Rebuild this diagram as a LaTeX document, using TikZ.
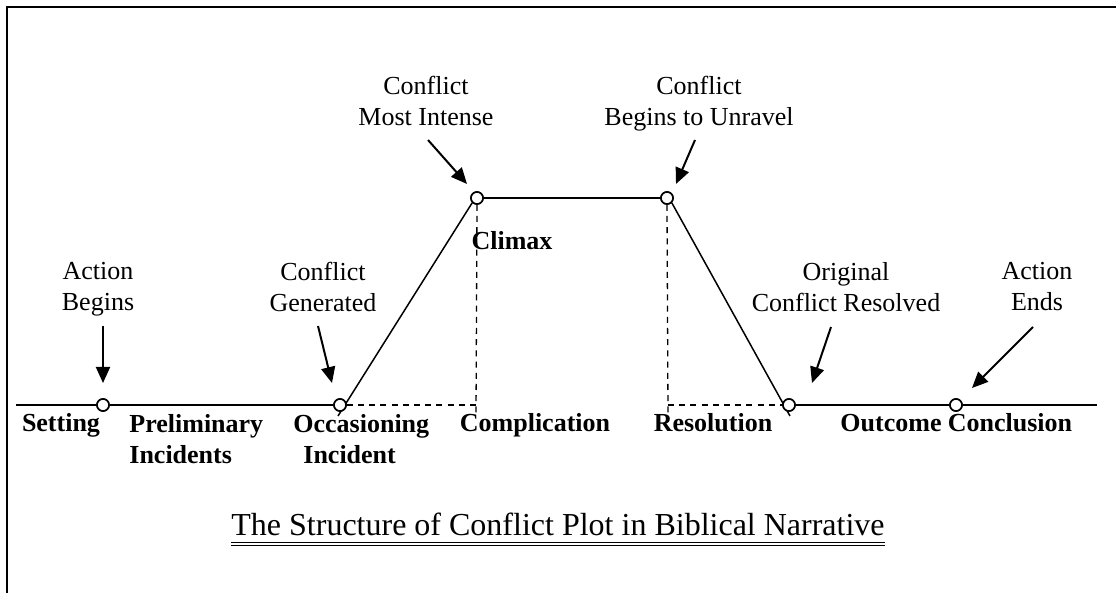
\documentclass[tikz,border=0pt]{standalone}
\usepackage{fontspec}
\setmainfont{Liberation Serif}
\usetikzlibrary{arrows.meta}
\begin{document}
\begin{tikzpicture}[x=0.5pt,y=-0.5pt,
  lbl/.style={font=\fontsize{13}{15.5}\selectfont, align=center, inner sep=0pt},
  blbl/.style={font=\fontsize{13}{15.5}\selectfont\bfseries, align=center, inner sep=0pt},
  bleft/.style={font=\fontsize{13}{15.5}\selectfont\bfseries, align=left, inner sep=0pt},
  dot/.style={circle, draw, fill=white, minimum size=6pt, inner sep=0pt, line width=0.8pt},
  arr/.style={line width=1pt, -{Triangle[length=8pt,width=7pt]}},
  plotline/.style={line width=0.75pt},
  dsh/.style={line width=0.65pt, dash pattern=on 3pt off 2.6pt},
  frame/.style={line width=1pt}]
\useasboundingbox (0,0) rectangle (1116,593);
% frame
\draw[frame] (6.7,593) -- (6.7,7.5) -- (1116,7.5);
% key points
\coordinate (b0) at (16,405);
\coordinate (b1) at (1097,405);
\coordinate (riseLow) at (338,416);
\coordinate (fallLow) at (790,416);
\coordinate (cxL) at (476,405);
\coordinate (cxR) at (668,405);
\coordinate (cxLlow) at (476,417);
\coordinate (cxRlow) at (668,413);
% circles (nodes)
\node[dot] (p1) at (103,405) {};
\node[dot] (p2) at (340,405) {};
\node[dot] (p3) at (477,198) {};
\node[dot] (p4) at (667,198) {};
\node[dot] (p5) at (789,405) {};
\node[dot] (p6) at (956,405) {};
% dashed guides
\draw[dsh] (p2.east) -- (cxL);
\draw[dsh] (p3.south) -- (cxLlow);
\draw[dsh] (p4.south) -- (cxRlow);
\draw[dsh] (cxR) -- (p5.west);
% plot lines
\draw[plotline] (b0) -- (p1.west);
\draw[plotline] (p1.east) -- (p2.west);
\draw[plotline] (riseLow) -- (p3.south west);
\draw[plotline] (p3.east) -- (p4.west);
\draw[plotline] (p4.south east) -- (fallLow);
\draw[plotline] (p5.east) -- (p6.west);
\draw[plotline] (p6.east) -- (b1);
% redraw circles on top
\foreach \n in {p1,p2,p3,p4,p5,p6}{\node[dot] at (\n) {};}
% top labels
\node[lbl, anchor=north] (abeg) at (98,262) {Action\\Begins};
\node[lbl, anchor=north] (cgen) at (323,262) {Conflict\\Generated};
\node[lbl, anchor=north] (cmost) at (426,76) {Conflict\\Most Intense};
\node[lbl, anchor=north] (cunr) at (699,76) {Conflict\\Begins to Unravel};
\node[lbl, anchor=north] (ores) at (846,262) {Original\\Conflict Resolved};
\node[lbl, anchor=north] (aend) at (1037,262) {Action\\Ends};
\node[blbl, anchor=base] (climax) at (512,249.6) {Climax};
% arrow coordinates
\coordinate (a1s) at (103,326); \coordinate (a1e) at (103,383);
\coordinate (a2s) at (318,326); \coordinate (a2e) at (332,383);
\coordinate (a3s) at (428,140); \coordinate (a3e) at (467,184);
\coordinate (a4s) at (695,140); \coordinate (a4e) at (676,184);
\coordinate (a5s) at (831,327); \coordinate (a5e) at (812,383);
\coordinate (a6s) at (1033,327); \coordinate (a6e) at (972,388);
\draw[arr] (a1s) -- (a1e);
\draw[arr] (a2s) -- (a2e);
\draw[arr] (a3s) -- (a3e);
\draw[arr] (a4s) -- (a4e);
\draw[arr] (a5s) -- (a5e);
\draw[arr] (a6s) -- (a6e);
% bottom labels
\node[blbl, anchor=base] (setting) at (61,431.6) {Setting};
\node[bleft, anchor=north west] (prelim) at (129,414) {Preliminary\\Incidents};
\node[bleft, anchor=north west] (occ) at (293,414) {Occasioning\\\hspace*{5pt}Incident};
\node[blbl, anchor=base] (compl) at (535,431.6) {Complication};
\node[blbl, anchor=base] (resol) at (713,431.6) {Resolution};
\node[blbl, anchor=base] (outc) at (891,431.6) {Outcome};
\node[blbl, anchor=base] (concl) at (1010,431.6) {Conclusion};
% title
\node[inner sep=0pt, font=\fontsize{16}{19}\selectfont, anchor=base] (title) at (558,535.5) {The Structure of Conflict Plot in Biblical Narrative};
\draw[line width=0.7pt] ([yshift=-3.4pt]title.base west) -- ([yshift=-3.4pt]title.base east);
\draw[line width=0.5pt] ([yshift=-5pt]title.base west) -- ([yshift=-5pt]title.base east);
\end{tikzpicture}
\end{document}
